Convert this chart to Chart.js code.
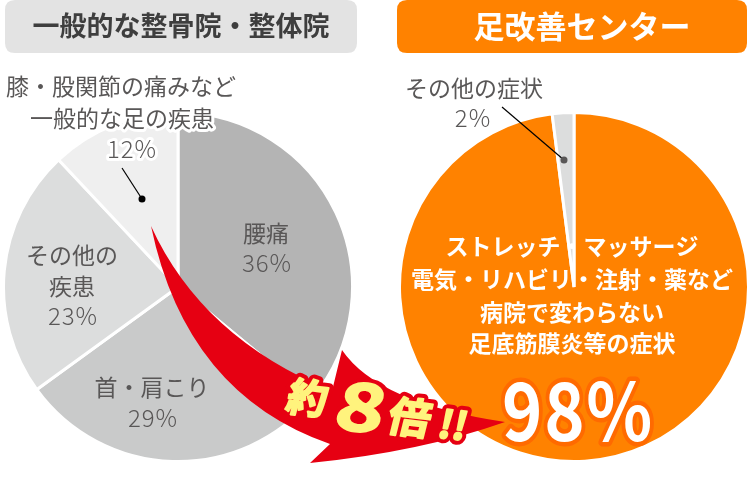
<!DOCTYPE html>
<html>
<head>
<meta charset="utf-8">
<script src="https://cdn.jsdelivr.net/npm/chart.js@4.4.1/dist/chart.umd.min.js"></script>
<style>
  html, body { margin: 0; padding: 0; background: #fff; }
  #wrap { position: relative; width: 750px; height: 481px; overflow: hidden; }
  #wrap canvas { position: absolute; }
</style>
</head>
<body>
<div id="wrap">
  <canvas id="leftPie" width="352" height="352" style="left:2px;top:111px"></canvas>
  <canvas id="rightPie" width="352" height="352" style="left:398px;top:111px"></canvas>
  <canvas id="overlay" width="750" height="481" style="left:0;top:0"></canvas>
</div>
<script>
// ---- data ----
const leftTitle = '一般的な整骨院・整体院';
const rightTitle = '足改善センター';
const leftCategories = [['腰痛'], ['首・肩こり'], ['その他の', '疾患'], ['膝・股関節の痛みなど', '一般的な足の疾患']];
const leftValues = [36, 29, 23, 12];
const rightCategories = [['ストレッチ・マッサージ', '電気・リハビリ・注射・薬など', '病院で変わらない', '足底筋膜炎等の症状'], ['その他の症状']];
const rightValues = [98, 2];
const ratioText = ['約', '8', '倍', '!!'];

// ---- styles ----
const leftColors = ['#b4b4b4', '#c9caca', '#dcdddd', '#efefef'];
const rightColors = ['#ff8200', '#dcdddd'];
const JP = '"Noto Sans CJK JP", "Noto Sans", sans-serif';

function pieConfig(values, colors, labels) {
  return {
    type: 'pie',
    data: {
      labels: labels.map(l => l.join('')),
      datasets: [{ data: values, backgroundColor: colors, borderColor: '#ffffff', borderWidth: 3 }]
    },
    options: {
      responsive: false,
      animation: false,
      events: [],
      layout: { padding: 0 },
      plugins: { legend: { display: false }, tooltip: { enabled: false } }
    }
  };
}
new Chart(document.getElementById('leftPie'), pieConfig(leftValues, leftColors, leftCategories));
new Chart(document.getElementById('rightPie'), pieConfig(rightValues, rightColors, rightCategories));

// ---- overlay: headers, arrow, labels ----
const cv = document.getElementById('overlay');
const ctx = cv.getContext('2d');

function roundRect(x, y, w, h, r, fill) {
  ctx.beginPath();
  ctx.moveTo(x + r, y);
  ctx.lineTo(x + w - r, y);
  ctx.quadraticCurveTo(x + w, y, x + w, y + r);
  ctx.lineTo(x + w, y + h - r);
  ctx.quadraticCurveTo(x + w, y + h, x + w - r, y + h);
  ctx.lineTo(x + r, y + h);
  ctx.quadraticCurveTo(x, y + h, x, y + h - r);
  ctx.lineTo(x, y + r);
  ctx.quadraticCurveTo(x, y, x + r, y);
  ctx.closePath();
  ctx.fillStyle = fill;
  ctx.fill();
}

function text(str, x, y, font, color, halo, haloW) {
  ctx.font = font;
  ctx.textAlign = 'center';
  ctx.textBaseline = 'middle';
  if (halo) {
    ctx.lineJoin = 'round';
    ctx.lineWidth = haloW || 5;
    ctx.strokeStyle = halo;
    ctx.strokeText(str, x, y);
  }
  ctx.fillStyle = color;
  ctx.fillText(str, x, y);
}

function draw() {
  ctx.clearRect(0, 0, 750, 481);
  ctx.letterSpacing = '0px';
  // headers
  roundRect(5, 0, 352, 53, 10, '#e3e3e3');
  roundRect(397, 0, 350, 53, 10, '#ff8200');
  text(leftTitle, 181, 26, 'bold 27px ' + JP, '#3e3e3e');
  text(rightTitle, 582, 26, 'bold 31px ' + JP, '#ffffff');

  // left pie labels
  const grey = '#595757';
  const f = '23px ' + JP;
  const pf = '300 24px ' + JP;
  text(leftCategories[0][0], 266, 233, f, grey);
  ctx.letterSpacing = '1px';
  text(leftValues[0] + '%', 267, 263, pf, grey);
  ctx.letterSpacing = '0px';
  text(leftCategories[1][0], 152, 387, f, grey);
  ctx.letterSpacing = '1px';
  text(leftValues[1] + '%', 153, 418, pf, grey);
  ctx.letterSpacing = '0px';
  text(leftCategories[2][0], 72, 255, f, grey);
  text(leftCategories[2][1], 72, 286, f, grey);
  ctx.letterSpacing = '1px';
  text(leftValues[2] + '%', 73, 316, pf, grey);
  ctx.letterSpacing = '0px';
  text(leftCategories[3][0], 121, 86, f, grey, '#ffffff', 6);
  text(leftCategories[3][1], 122, 118, f, grey, '#ffffff', 6);
  ctx.letterSpacing = '1px';
  text(leftValues[3] + '%', 132, 149, pf, grey, '#ffffff', 6);
  ctx.letterSpacing = '0px';
  // leader left
  ctx.strokeStyle = '#000'; ctx.lineWidth = 1.2;
  ctx.beginPath(); ctx.moveTo(122, 168); ctx.lineTo(142, 199); ctx.stroke();
  ctx.fillStyle = '#000';
  ctx.beginPath(); ctx.arc(142, 199, 3.5, 0, Math.PI * 2); ctx.fill();

  // right small label
  text(rightCategories[1][0], 474, 88, f, grey);
  ctx.letterSpacing = '1px';
  text(rightValues[1] + '%', 473, 118, pf, grey);
  ctx.letterSpacing = '0px';
  ctx.strokeStyle = '#000'; ctx.lineWidth = 1.2;
  ctx.beginPath(); ctx.moveTo(502, 107); ctx.lineTo(564, 160); ctx.stroke();
  ctx.beginPath(); ctx.arc(564, 160, 3.5, 0, Math.PI * 2); ctx.fill();

  // right main label
  const wf = 'bold 23px ' + JP;
  const ys = [246, 279, 312, 343];
  rightCategories[0].forEach((s, i) => text(s, 572, ys[i], wf, '#ffffff'));

  // arrow
  ctx.fillStyle = '#e60012';
  ctx.beginPath();
  ctx.moveTo(151, 226);
  ctx.quadraticCurveTo(186, 394, 330, 444);
  ctx.lineTo(310, 463);
  ctx.quadraticCurveTo(420, 452, 505, 422);
  ctx.quadraticCurveTo(378, 403, 342, 350);
  ctx.lineTo(332, 391);
  ctx.quadraticCurveTo(202, 338, 151, 226);
  ctx.closePath();
  ctx.fill();

  // 約8倍!!
  ctx.save();
  ctx.translate(376, 415);
  ctx.rotate(7 * Math.PI / 180);
  ctx.transform(1, 0, -0.12, 1, 0, 0);
  const parts = [
    { s: ratioText[0], x: -71, y: -9, font: 'bold 40px ' + JP, sx: 1.0 },
    { s: ratioText[1], x: -16, y: -7, font: 'bold 66px ' + JP, sx: 1.25 },
    { s: ratioText[2], x: 34, y: -2, font: 'bold 42px ' + JP, sx: 1.0 },
    { s: ratioText[3], x: 78, y: 0, font: 'bold 38px ' + JP, sx: 1.0 }
  ];
  ctx.textAlign = 'center';
  ctx.textBaseline = 'middle';
  ctx.lineJoin = 'round';
  function put(p, fn) {
    ctx.save();
    ctx.translate(p.x, p.y);
    ctx.scale(p.sx, 1);
    ctx.font = p.font;
    fn();
    ctx.restore();
  }
  parts.forEach(p => put(p, () => {
    ctx.lineWidth = 10;
    ctx.strokeStyle = '#e60012';
    ctx.strokeText(p.s, 0, 0);
  }));
  parts.forEach(p => put(p, () => {
    ctx.lineWidth = 2;
    ctx.strokeStyle = '#fff37d';
    ctx.strokeText(p.s, 0, 0);
    ctx.fillStyle = '#fff37d';
    ctx.fillText(p.s, 0, 0);
  }));
  ctx.restore();

  // 98%
  ctx.save();
  ctx.font = 'bold 80px ' + JP;
  ctx.textAlign = 'center';
  ctx.textBaseline = 'alphabetic';
  ctx.lineJoin = 'round';
  ctx.lineWidth = 9;
  ctx.strokeStyle = '#ff6a00';
  ctx.letterSpacing = '2px';
  const big = rightValues[0] + '%';
  ctx.strokeText(big, 578, 441, 152);
  ctx.fillStyle = '#ffffff';
  ctx.fillText(big, 578, 441, 152);
  ctx.restore();
}

if (document.fonts && document.fonts.ready) {
  draw();
  document.fonts.load('bold 23px "Noto Sans CJK JP"').then(draw, draw);
} else {
  draw();
}
</script>
</body>
</html>
